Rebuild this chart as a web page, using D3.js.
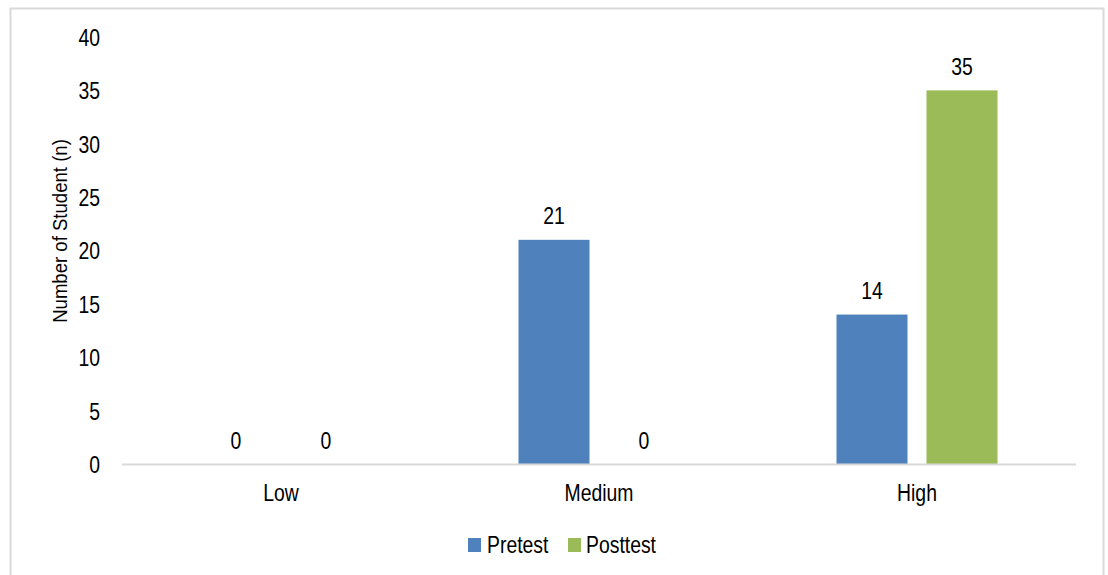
<!DOCTYPE html>
<html>
<head>
<meta charset="utf-8">
<script src="https://cdn.jsdelivr.net/npm/d3@7"></script>
<style>
  html, body { margin: 0; padding: 0; background: #fff; }
  svg { display: block; }
  text { font-family: "Liberation Sans", Arial, sans-serif; fill: #000; }
</style>
</head>
<body>
<svg id="chart" width="1108" height="575"></svg>
<script>
const categories = ["Low", "Medium", "High"];
const seriesNames = ["Pretest", "Posttest"];
const pretest = [0, 21, 14];
const posttest = [0, 0, 35];
const yTicks = [0, 5, 10, 15, 20, 25, 30, 35, 40];
const yTitle = "Number of Student (n)";
const colors = ["#4F81BD", "#9BBB59"];

const NARROW = 0.825;   // emulate a condensed face
const FS = 23.5;

const svg = d3.select("#chart");

// outer frame
svg.append("rect").attr("x", 10.5).attr("y", 8.5).attr("width", 1093).attr("height", 580)
  .attr("fill", "#fff").attr("stroke", "#D9D9D9").attr("stroke-width", 2);

const plot = { left: 122, right: 1076, top: 37, bottom: 464 };

const x0 = d3.scaleBand().domain(categories).range([plot.left, plot.right]).paddingInner(0).paddingOuter(0);
const x1 = d3.scaleBand().domain(seriesNames).range([0, x0.bandwidth()]).paddingInner(0.211).paddingOuter(0.872);
const y = d3.scaleLinear().domain([0, 40]).range([plot.bottom, plot.top]);

// y axis labels
const yAxis = d3.axisLeft(y).tickValues(yTicks).tickSize(0).tickPadding(0);
const gy = svg.append("g").attr("transform", `translate(100,0)`).call(yAxis);
gy.select(".domain").remove();
gy.selectAll("text").attr("font-size", FS).attr("font-family", null)
  .attr("x", 0).attr("dy", "0.36em").attr("transform", `scale(${NARROW},1)`);

// y title
svg.append("text")
  .attr("transform", `translate(66.5,231) rotate(-90) scale(0.92,1)`)
  .attr("text-anchor", "middle")
  .attr("font-size", 20.2)
  .text(yTitle);

// bars
const rows = categories.map((c, i) => ({ cat: c, vals: [pretest[i], posttest[i]] }));
const groups = svg.append("g").selectAll("g").data(rows).join("g")
  .attr("transform", d => `translate(${x0(d.cat)},0)`);

groups.selectAll("rect").data(d => d.vals.map((v, j) => ({ s: seriesNames[j], v, j })))
  .join("rect")
  .attr("x", d => x1(d.s))
  .attr("width", x1.bandwidth())
  .attr("y", d => y(d.v))
  .attr("height", d => y(0) - y(d.v))
  .attr("fill", d => colors[d.j]);

groups.selectAll("text.val").data(d => d.vals.map((v, j) => ({ s: seriesNames[j], v, j })))
  .join("text")
  .attr("class", "val")
  .attr("transform", d => `translate(${x1(d.s) + x1.bandwidth() / 2},${y(d.v) - 15.5}) scale(${NARROW},1)`)
  .attr("text-anchor", "middle")
  .attr("font-size", FS)
  .text(d => d.v);

// x axis line
svg.append("line").attr("x1", plot.left).attr("x2", plot.right)
  .attr("y1", plot.bottom + 0.5).attr("y2", plot.bottom + 0.5)
  .attr("stroke", "#D9D9D9").attr("stroke-width", 2);

// x labels
const xAxis = d3.axisBottom(x0).tickSize(0).tickPadding(0);
const gx = svg.append("g").attr("transform", `translate(0,${plot.bottom})`).call(xAxis);
gx.select(".domain").remove();
gx.selectAll("text").attr("font-size", FS).attr("font-family", null).attr("dy", null)
  .attr("y", 37.5).attr("transform", `scale(${NARROW},1)`);

// legend
const legendItems = [
  { name: seriesNames[0], color: colors[0], sx: 468, tx: 487 },
  { name: seriesNames[1], color: colors[1], sx: 568, tx: 586 }
];
const lg = svg.append("g");
lg.selectAll("rect").data(legendItems).join("rect")
  .attr("x", d => d.sx).attr("y", 538).attr("width", 13).attr("height", 14)
  .attr("fill", d => d.color);
lg.selectAll("text").data(legendItems).join("text")
  .attr("transform", d => `translate(${d.tx},552.5) scale(${NARROW},1)`)
  .attr("font-size", FS)
  .text(d => d.name);
</script>
</body>
</html>
